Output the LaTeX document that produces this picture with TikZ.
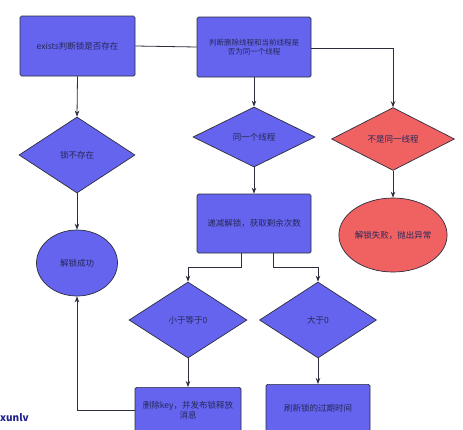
\documentclass[tikz,border=0pt]{standalone}
\usepackage{fontspec}
\setmainfont{Noto Sans CJK SC}
\usetikzlibrary{shapes.geometric,arrows.meta}
\definecolor{bluefill}{RGB}{100,100,238}
\definecolor{redfill}{RGB}{240,98,98}
\definecolor{edge}{RGB}{45,45,60}
\definecolor{txt}{RGB}{40,40,90}
\definecolor{mark}{RGB}{30,30,140}
\tikzset{
  base/.style={draw=edge, line width=0.7pt, text=txt, font=\fontsize{8.5}{10}\selectfont, align=center, inner sep=1pt},
  bluebox/.style={base, fill=bluefill, rounded corners=1.5pt, minimum width=#1, minimum height=60pt},
  bluedia/.style={base, fill=bluefill, diamond, minimum width=118pt, minimum height=76pt},
  reddia/.style={base, fill=redfill, diamond, minimum width=123pt, minimum height=60pt},
  ell/.style={base, ellipse},
  conn/.style={draw=edge, line width=0.8pt},
  arr/.style={conn, -{Stealth[length=6pt,width=4.5pt]}},
}
\begin{document}
\begin{tikzpicture}[x=1pt,y=-1pt]
\clip (0,0) rectangle (463,429);
\fill[white] (0,0) rectangle (463,429);
% top row
\node[bluebox=115pt] (b1) at (77.5,46) {exists判断锁是否存在};
\node[bluebox=114pt, font=\fontsize{7.5}{9.5}\selectfont] (b2) at (254,47) {判断删除线程和当前线程是\\否为同一个线程};
% second row
\node[bluedia, minimum width=116pt, minimum height=76pt] (d1) at (77,155) {锁不存在};
\node[bluedia, minimum width=122pt, minimum height=60pt] (d2) at (254,137) {同一个线程};
\node[reddia] (d3) at (393,139) {不是同一线程};
% third row
\node[ell, fill=bluefill, minimum width=81pt, minimum height=66pt] (e1) at (77,263) {解锁成功};
\node[bluebox=114pt, minimum height=59pt] (b3) at (254,223.5) {递减解锁，获取剩余次数};
\node[ell, fill=redfill, minimum width=91pt, minimum height=74pt, inner sep=0pt] (e2) at (393,235) {解锁失败，抛出异常};
% fourth row
\node[bluedia] (d4) at (188,320) {小于等于0};
\node[bluedia, minimum width=117pt] (d5) at (318,320) {大于0};
% bottom row
\node[bluebox=106pt, minimum height=70pt, anchor=north] (b4) at (188,387) {};
\node[base, draw=none, anchor=center] (t4) at (188,410.5) {删除key，并发布锁释放\\消息};
\node[bluebox=104pt, minimum height=70pt, anchor=north] (b5) at (318,384) {};
\node[base, draw=none, anchor=center] (t5) at (318,408) {刷新锁的过期时间};
% connectors
\draw[conn] (b1.east) -- (b2.west);
\draw[arr] (b1.south) -- (d1.north);
\draw[arr] (b2.south) -- (d2.north);
\coordinate (c1) at (393,48);
\draw[arr] (b2.east |- c1) -- (c1) -- (d3.north);
\draw[arr] (d1.south) -- (e1.north);
\draw[arr] (d2.south) -- (b3.north);
\draw[arr] (d3.south) -- (e2.north);
\coordinate (s1) at (241,267);
\coordinate (s2) at (273,267);
\draw[arr] (s1 |- b3.south) -- (s1) -| (d4.north);
\draw[arr] (s2 |- b3.south) -- (s2) -| (d5.north);
\draw[arr] (d4.south) -- (b4.north);
\draw[arr] (d5.south) -- (b5.north);
\coordinate (r1) at (77,410);
\draw[arr] (b4.west |- r1) -- (r1) -- (e1.south);
% watermark
\node[font=\fontsize{10}{12}\selectfont\bfseries, text=mark, anchor=west, inner sep=0pt] (wm) at (0,418) {xunlv};
\end{tikzpicture}
\end{document}
